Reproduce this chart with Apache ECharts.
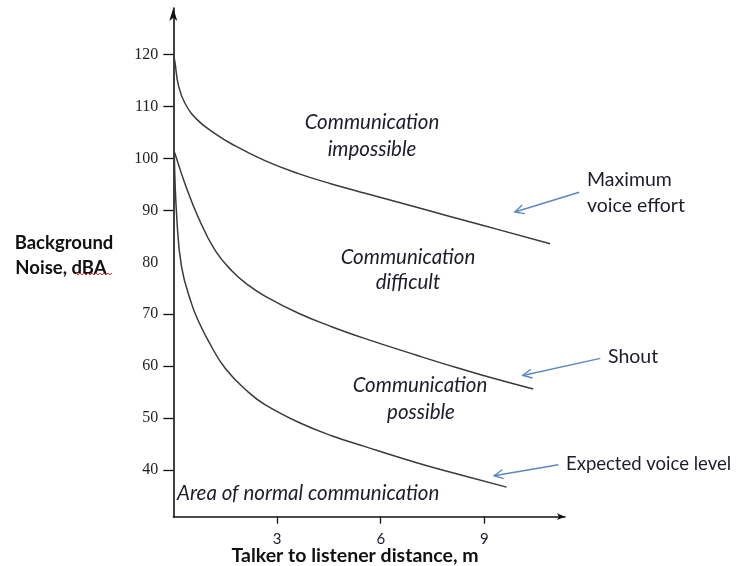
<!DOCTYPE html>
<html>
<head>
<meta charset="utf-8">
<script src="https://cdn.jsdelivr.net/npm/echarts@6/dist/echarts.min.js"></script>
<style>html,body{margin:0;padding:0;background:#fff;}#c{width:740px;height:566px;}</style>
</head>
<body>
<div id="c"></div>
<script>
// Maximum voice effort curve
var maxEffortX = [0.02, 0.05, 0.145, 0.34, 0.72, 1.21, 1.69, 2.65, 3.62, 4.58, 5.55, 7.04, 8.97, 10.9];
var maxEffortY = [119.5, 118.5, 114.2, 110.6, 107.3, 104.8, 102.8, 99.6, 97.1, 95.1, 93.3, 90.6, 87.1, 83.6];
// Shout curve
var shoutX = [0.02, 0.05, 0.34, 0.72, 1.21, 1.69, 2.17, 2.65, 3.62, 4.58, 5.55, 7.04, 8.0, 8.97, 10.41];
var shoutY = [101.5, 100.9, 95.1, 88.7, 82.3, 78.4, 75.6, 73.5, 70.2, 67.6, 65.3, 62.1, 60.1, 58.2, 55.6];
// Expected voice level curve
var expectedX = [0.03, 0.10, 0.24, 0.53, 0.72, 1.01, 1.50, 2.17, 2.65, 3.62, 4.58, 5.55, 7.04, 8.0, 9.64];
var expectedY = [100.5, 88.7, 79.1, 72.0, 68.8, 64.9, 59.6, 55.0, 52.6, 49.2, 46.6, 44.5, 41.4, 39.6, 36.7];

var yLabelValues = [40, 50, 60, 70, 80, 90, 100, 110, 120];
var yTickValues = [40, 50, 60, 70, 90, 100, 110, 120];
var xLabelValues = [3, 6, 9];

function pairs(xs, ys) { return xs.map(function (x, i) { return [x, ys[i]]; }); }

var chart = echarts.init(document.getElementById('c'), null, { renderer: 'canvas' });

var curveStyle = { color: '#3a3a3a', width: 1.5 };
var arrowColor = '#5b87c5';

function curve(name, data) {
  return {
    name: name, type: 'line', data: data, showSymbol: false, symbol: 'none',
    smooth: 0.45, lineStyle: curveStyle, clip: false, silent: true
  };
}

var labelFont = 'Lato, "Open Sans", sans-serif';
function txt(text, x, y, size, opts) {
  opts = opts || {};
  return {
    type: 'text', silent: true,
    style: {
      text: text, x: x, y: y,
      font: (opts.italic ? 'italic ' : '') + (opts.bold ? 'bold ' : '') + size + 'px ' + labelFont,
      fill: opts.color || '#1c1c2a',
      textAlign: opts.align || 'center', align: opts.align || 'center',
      textVerticalAlign: 'middle', verticalAlign: 'middle'
    }
  };
}

var option = {
  backgroundColor: '#ffffff',
  animation: false,
  grid: { left: 173.3, right: 175, top: 8, bottom: 49.3, containLabel: false },
  xAxis: {
    type: 'value', min: 0, max: 11.33,
    axisLine: { show: true, symbol: ['none', 'arrow'], symbolSize: [5, 8], lineStyle: { color: '#111', width: 1.5 } },
    axisTick: { show: true, customValues: xLabelValues, length: 7, lineStyle: { color: '#111', width: 1.3 } },
    axisLabel: { customValues: xLabelValues, color: '#1c1c2a', fontSize: 15, fontFamily: labelFont, margin: 15 },
    splitLine: { show: false }
  },
  yAxis: {
    type: 'value', min: 31, max: 129,
    axisLine: { show: true, symbol: ['none', 'arrow'], symbolSize: [6, 13], lineStyle: { color: '#111', width: 1.6 } },
    axisTick: { show: true, customValues: yTickValues, length: 10, lineStyle: { color: '#111', width: 1.3 } },
    axisLabel: { customValues: yLabelValues, color: '#1f1f1f', fontSize: 16, fontFamily: '"Liberation Serif", "DejaVu Serif", serif', margin: 15 },
    splitLine: { show: false }
  },
  series: [
    curve('Maximum voice effort', pairs(maxEffortX, maxEffortY)),
    curve('Shout', pairs(shoutX, shoutY)),
    curve('Expected voice level', pairs(expectedX, expectedY))
  ]
};
chart.setOption(option);

// annotation arrows, anchored in data coordinates
function arrow(from, to) {
  var a = chart.convertToPixel({ gridIndex: 0 }, from);
  var b = chart.convertToPixel({ gridIndex: 0 }, to);
  var dx = b[0] - a[0], dy = b[1] - a[1];
  var len = Math.sqrt(dx * dx + dy * dy);
  var ux = dx / len, uy = dy / len;
  var hl = 9, hw = 4.5;
  var p1 = [b[0] - ux * hl - uy * hw, b[1] - uy * hl + ux * hw];
  var p2 = [b[0] - ux * hl + uy * hw, b[1] - uy * hl - ux * hw];
  var st = { stroke: arrowColor, lineWidth: 1.4, fill: null };
  return [
    { type: 'line', silent: true, shape: { x1: a[0], y1: a[1], x2: b[0], y2: b[1] }, style: st },
    { type: 'polyline', silent: true, shape: { points: [p1, b, p2] }, style: st }
  ];
}

// red spell-check squiggle under "dBA"
var squiggle = [];
for (var sx = 76; sx <= 112; sx += 2) { squiggle.push([sx, (sx / 2) % 2 === 0 ? 273 : 275]); }

var graphics = [
  txt('Background', 64, 243, 18.5, { bold: true, color: '#111' }),
  txt('Noise, dBA', 61, 268, 18.5, { bold: true, color: '#111' }),
  { type: 'polyline', silent: true, shape: { points: squiggle }, style: { stroke: '#e03030', lineWidth: 1, fill: null } },
  txt('Talker to listener distance, m', 355, 556, 19.5, { bold: true, color: '#111' }),
  txt('Communication', 372, 122, 20.5, { italic: true }),
  txt('impossible', 372, 149, 20.5, { italic: true }),
  txt('Communication', 408, 257, 20.5, { italic: true }),
  txt('difficult', 408, 282, 20.5, { italic: true }),
  txt('Communication', 420, 385, 20.5, { italic: true }),
  txt('possible', 421, 412, 20.5, { italic: true }),
  txt('Area of normal communication', 177, 493, 20.5, { italic: true, align: 'left' }),
  txt('Maximum', 587, 180, 19.5, { align: 'left' }),
  txt('voice effort', 587, 206, 19.5, { align: 'left' }),
  txt('Shout', 608, 357, 19.5, { align: 'left' }),
  txt('Expected voice level', 566, 464, 18.5, { align: 'left' })
];
graphics = graphics
  .concat(arrow([11.74, 93.5], [9.88, 89.7]))
  .concat(arrow([12.35, 61.5], [10.11, 58.2]))
  .concat(arrow([11.14, 41.0], [9.28, 38.9]));

chart.setOption({ graphic: graphics });
</script>
</body>
</html>
